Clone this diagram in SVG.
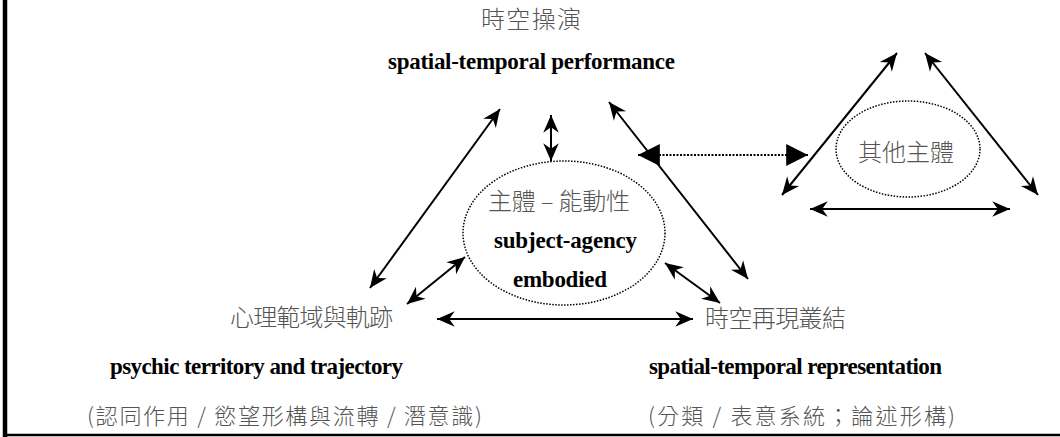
<svg xmlns="http://www.w3.org/2000/svg" width="1060" height="437" viewBox="0 0 1060 437">
  <style>
    .cjk { font-family: "Noto Sans CJK TC", "Noto Sans CJK SC", sans-serif; font-weight: 300; fill: #555; text-anchor: middle; }
    .en { font-family: "Liberation Serif", "Times New Roman", serif; font-weight: bold; fill: #000; text-anchor: middle; }
    .arrow { fill: none; stroke: #000; stroke-width: 2; marker-start: url(#head); marker-end: url(#head); }
    .dotarrow { fill: none; stroke: #000; stroke-width: 2; stroke-dasharray: 2 1.5; marker-start: url(#bighead); marker-end: url(#bighead); }
    .dotellipse { fill: none; stroke: #000; stroke-width: 1.5; stroke-dasharray: 1.5 1.5; }
  </style>
  <defs>
    <marker id="head" markerUnits="userSpaceOnUse" markerWidth="20" markerHeight="20" viewBox="-17 -9 18 18" refX="0" refY="0" orient="auto-start-reverse">
      <path d="M0,0 L-16,-7 L-11,0 L-16,7 Z" fill="#000"/>
    </marker>
    <marker id="bighead" markerUnits="userSpaceOnUse" markerWidth="24" markerHeight="24" viewBox="-21 -11 22 22" refX="0" refY="0" orient="auto-start-reverse">
      <path d="M0,0 L-20,-10 L-20,10 Z" fill="#000"/>
    </marker>
  </defs>

  <rect width="1060" height="437" fill="#fff"/>

  <g id="frame">
    <line x1="5" y1="0" x2="5" y2="437" stroke="#000" stroke-width="4.5"/>
    <line x1="3" y1="435" x2="1060" y2="435" stroke="#000" stroke-width="2.5"/>
  </g>

  <g id="node-performance">
    <text class="cjk" x="531" y="28" font-size="24" textLength="100">時空操演</text>
    <text class="en" x="531.5" y="69" font-size="23" textLength="287">spatial-temporal performance</text>
  </g>

  <g id="node-subject">
    <ellipse class="dotellipse" cx="564" cy="233" rx="101" ry="72"/>
    <text class="cjk" x="559" y="210" font-size="24" textLength="142">主體 – 能動性</text>
    <text class="en" x="565.5" y="248" font-size="23" textLength="143">subject-agency</text>
    <text class="en" x="560" y="287" font-size="23" textLength="94">embodied</text>
  </g>

  <g id="node-others">
    <ellipse class="dotellipse" cx="908" cy="149" rx="72" ry="48"/>
    <text class="cjk" x="906" y="161" font-size="24" textLength="96">其他主體</text>
  </g>

  <g id="node-psychic">
    <text class="cjk" x="311.5" y="326" font-size="24" textLength="163">心理範域與軌跡</text>
    <text class="en" x="256.5" y="374" font-size="23" textLength="293">psychic territory and trajectory</text>
    <text class="cjk" x="284.5" y="424" font-size="22" textLength="395">(認同作用 / 慾望形構與流轉 / 潛意識)</text>
  </g>

  <g id="node-representation">
    <text class="cjk" x="775.5" y="327" font-size="24" textLength="141">時空再現叢結</text>
    <text class="en" x="795.5" y="374" font-size="23" textLength="293">spatial-temporal representation</text>
    <text class="cjk" x="801.5" y="424" font-size="22" textLength="307">(分類 / 表意系統；論述形構)</text>
  </g>

  <g id="connectors">
    <line class="arrow" x1="500" y1="109" x2="370" y2="288"/>
    <line class="arrow" x1="551" y1="115" x2="551" y2="161"/>
    <line class="arrow" x1="609" y1="102" x2="748" y2="279"/>
    <line class="arrow" x1="465" y1="257" x2="407" y2="304"/>
    <line class="arrow" x1="665" y1="263" x2="720" y2="303"/>
    <line class="arrow" x1="437" y1="319" x2="693" y2="319"/>
    <line class="dotarrow" x1="638" y1="155" x2="808" y2="155"/>
    <line class="arrow" x1="897" y1="53" x2="782" y2="195"/>
    <line class="arrow" x1="925" y1="53" x2="1038" y2="195"/>
    <line class="arrow" x1="810" y1="209" x2="1010" y2="209"/>
  </g>
</svg>
